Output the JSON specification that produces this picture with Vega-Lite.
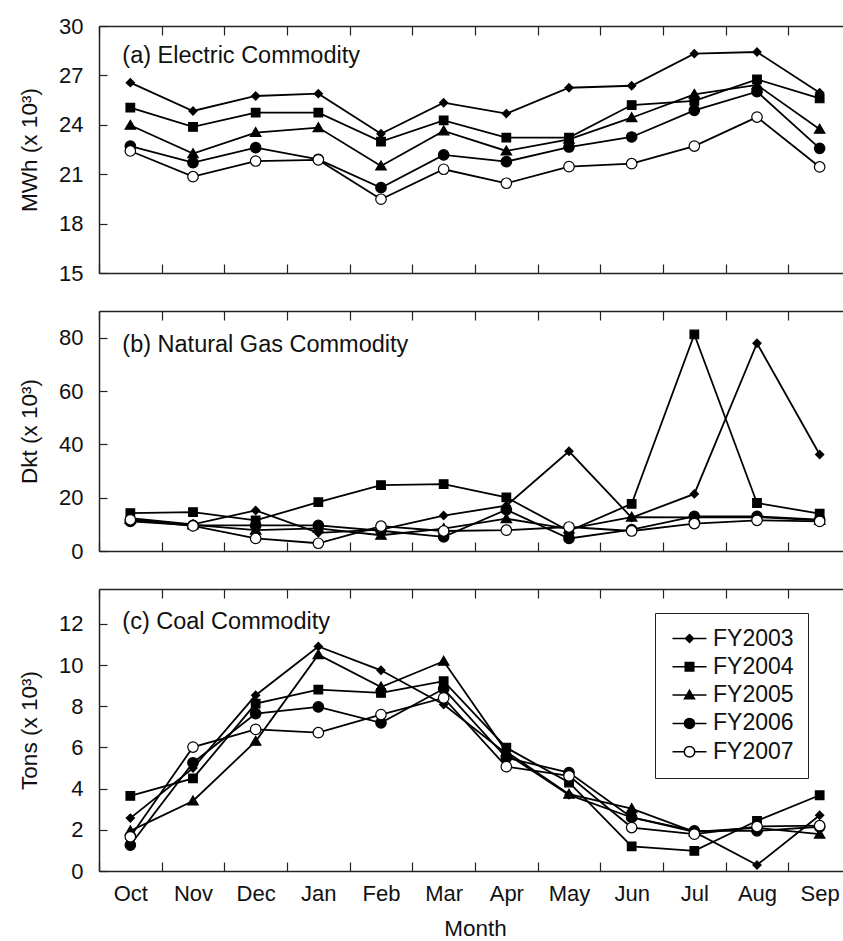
{
  "$schema": "https://vega.github.io/schema/vega-lite/v6.json",
  "padding": {"left": 18, "top": 15, "right": 0, "bottom": 0},
  "spacing": 26,
  "config": {
    "font": "Liberation Sans",
    "view": {"stroke": null},
    "axis": {"domainColor": "#222", "domainWidth": 1.5, "tickColor": "#222", "tickWidth": 1.2, "labelFont": "Liberation Sans", "labelFontSize": 22, "labelColor": "#111", "titleFont": "Liberation Sans", "titleFontSize": 22.5, "titleFontWeight": "normal", "titleColor": "#111", "grid": false, "minExtent": 0},
    "axisX": {"tickBand": "extent", "tickSize": -9, "labelAngle": 0},
    "axisY": {"tickSize": -8, "labelPadding": 24, "titlePadding": 17}
  },
  "resolve": {"scale": {"shape": "independent", "fill": "independent", "stroke": "independent"}},
  "datasets": {
    "elec": [
      {"s":"FY2003","m":"Oct","v":26.56},{"s":"FY2003","m":"Nov","v":24.84},{"s":"FY2003","m":"Dec","v":25.75},{"s":"FY2003","m":"Jan","v":25.89},{"s":"FY2003","m":"Feb","v":23.46},{"s":"FY2003","m":"Mar","v":25.34},{"s":"FY2003","m":"Apr","v":24.68},{"s":"FY2003","m":"May","v":26.25},{"s":"FY2003","m":"Jun","v":26.37},{"s":"FY2003","m":"Jul","v":28.32},{"s":"FY2003","m":"Aug","v":28.42},{"s":"FY2003","m":"Sep","v":25.95},
      {"s":"FY2004","m":"Oct","v":25.04},{"s":"FY2004","m":"Nov","v":23.87},{"s":"FY2004","m":"Dec","v":24.74},{"s":"FY2004","m":"Jan","v":24.74},{"s":"FY2004","m":"Feb","v":22.98},{"s":"FY2004","m":"Mar","v":24.27},{"s":"FY2004","m":"Apr","v":23.22},{"s":"FY2004","m":"May","v":23.22},{"s":"FY2004","m":"Jun","v":25.2},{"s":"FY2004","m":"Jul","v":25.45},{"s":"FY2004","m":"Aug","v":26.76},{"s":"FY2004","m":"Sep","v":25.6},
      {"s":"FY2005","m":"Oct","v":23.97},{"s":"FY2005","m":"Nov","v":22.25},{"s":"FY2005","m":"Dec","v":23.53},{"s":"FY2005","m":"Jan","v":23.83},{"s":"FY2005","m":"Feb","v":21.5},{"s":"FY2005","m":"Mar","v":23.63},{"s":"FY2005","m":"Apr","v":22.41},{"s":"FY2005","m":"May","v":23.12},{"s":"FY2005","m":"Jun","v":24.43},{"s":"FY2005","m":"Jul","v":25.85},{"s":"FY2005","m":"Aug","v":26.42},{"s":"FY2005","m":"Sep","v":23.73},
      {"s":"FY2006","m":"Oct","v":22.71},{"s":"FY2006","m":"Nov","v":21.7},{"s":"FY2006","m":"Dec","v":22.61},{"s":"FY2006","m":"Jan","v":21.9},{"s":"FY2006","m":"Feb","v":20.18},{"s":"FY2006","m":"Mar","v":22.17},{"s":"FY2006","m":"Apr","v":21.76},{"s":"FY2006","m":"May","v":22.65},{"s":"FY2006","m":"Jun","v":23.26},{"s":"FY2006","m":"Jul","v":24.88},{"s":"FY2006","m":"Aug","v":26.01},{"s":"FY2006","m":"Sep","v":22.57},
      {"s":"FY2007","m":"Oct","v":22.41},{"s":"FY2007","m":"Nov","v":20.85},{"s":"FY2007","m":"Dec","v":21.8},{"s":"FY2007","m":"Jan","v":21.87},{"s":"FY2007","m":"Feb","v":19.48},{"s":"FY2007","m":"Mar","v":21.3},{"s":"FY2007","m":"Apr","v":20.45},{"s":"FY2007","m":"May","v":21.46},{"s":"FY2007","m":"Jun","v":21.64},{"s":"FY2007","m":"Jul","v":22.71},{"s":"FY2007","m":"Aug","v":24.47},{"s":"FY2007","m":"Sep","v":21.44}
    ],
    "gas": [
      {"s":"FY2003","m":"Oct","v":12.3},{"s":"FY2003","m":"Nov","v":10.0},{"s":"FY2003","m":"Dec","v":15.2},{"s":"FY2003","m":"Jan","v":6.8},{"s":"FY2003","m":"Feb","v":8.0},{"s":"FY2003","m":"Mar","v":13.3},{"s":"FY2003","m":"Apr","v":17.0},{"s":"FY2003","m":"May","v":37.4},{"s":"FY2003","m":"Jun","v":12.5},{"s":"FY2003","m":"Jul","v":21.4},{"s":"FY2003","m":"Aug","v":77.9},{"s":"FY2003","m":"Sep","v":36.2},
      {"s":"FY2004","m":"Oct","v":14.2},{"s":"FY2004","m":"Nov","v":14.6},{"s":"FY2004","m":"Dec","v":11.5},{"s":"FY2004","m":"Jan","v":18.3},{"s":"FY2004","m":"Feb","v":24.7},{"s":"FY2004","m":"Mar","v":25.1},{"s":"FY2004","m":"Apr","v":20.1},{"s":"FY2004","m":"May","v":7.5},{"s":"FY2004","m":"Jun","v":17.7},{"s":"FY2004","m":"Jul","v":81.2},{"s":"FY2004","m":"Aug","v":18.0},{"s":"FY2004","m":"Sep","v":14.0},
      {"s":"FY2005","m":"Oct","v":11.8},{"s":"FY2005","m":"Nov","v":9.8},{"s":"FY2005","m":"Dec","v":7.8},{"s":"FY2005","m":"Jan","v":8.5},{"s":"FY2005","m":"Feb","v":5.9},{"s":"FY2005","m":"Mar","v":8.4},{"s":"FY2005","m":"Apr","v":12.1},{"s":"FY2005","m":"May","v":8.3},{"s":"FY2005","m":"Jun","v":12.7},{"s":"FY2005","m":"Jul","v":12.6},{"s":"FY2005","m":"Aug","v":12.7},{"s":"FY2005","m":"Sep","v":11.5},
      {"s":"FY2006","m":"Oct","v":11.1},{"s":"FY2006","m":"Nov","v":9.6},{"s":"FY2006","m":"Dec","v":9.6},{"s":"FY2006","m":"Jan","v":9.6},{"s":"FY2006","m":"Feb","v":7.6},{"s":"FY2006","m":"Mar","v":5.3},{"s":"FY2006","m":"Apr","v":15.5},{"s":"FY2006","m":"May","v":4.7},{"s":"FY2006","m":"Jun","v":8.0},{"s":"FY2006","m":"Jul","v":13.0},{"s":"FY2006","m":"Aug","v":13.0},{"s":"FY2006","m":"Sep","v":11.8},
      {"s":"FY2007","m":"Oct","v":11.7},{"s":"FY2007","m":"Nov","v":9.4},{"s":"FY2007","m":"Dec","v":4.7},{"s":"FY2007","m":"Jan","v":2.9},{"s":"FY2007","m":"Feb","v":9.3},{"s":"FY2007","m":"Mar","v":7.5},{"s":"FY2007","m":"Apr","v":7.8},{"s":"FY2007","m":"May","v":9.0},{"s":"FY2007","m":"Jun","v":7.5},{"s":"FY2007","m":"Jul","v":10.3},{"s":"FY2007","m":"Aug","v":11.5},{"s":"FY2007","m":"Sep","v":11.1}
    ],
    "coal": [
      {"s":"FY2003","m":"Oct","v":2.57},{"s":"FY2003","m":"Nov","v":5.0},{"s":"FY2003","m":"Dec","v":8.54},{"s":"FY2003","m":"Jan","v":10.91},{"s":"FY2003","m":"Feb","v":9.75},{"s":"FY2003","m":"Mar","v":8.09},{"s":"FY2003","m":"Apr","v":5.7},{"s":"FY2003","m":"May","v":3.7},{"s":"FY2003","m":"Jun","v":2.6},{"s":"FY2003","m":"Jul","v":1.9},{"s":"FY2003","m":"Aug","v":0.29},{"s":"FY2003","m":"Sep","v":2.71},
      {"s":"FY2004","m":"Oct","v":3.65},{"s":"FY2004","m":"Nov","v":4.5},{"s":"FY2004","m":"Dec","v":8.13},{"s":"FY2004","m":"Jan","v":8.81},{"s":"FY2004","m":"Feb","v":8.65},{"s":"FY2004","m":"Mar","v":9.22},{"s":"FY2004","m":"Apr","v":5.99},{"s":"FY2004","m":"May","v":4.3},{"s":"FY2004","m":"Jun","v":1.2},{"s":"FY2004","m":"Jul","v":0.98},{"s":"FY2004","m":"Aug","v":2.44},{"s":"FY2004","m":"Sep","v":3.68},
      {"s":"FY2005","m":"Oct","v":1.95},{"s":"FY2005","m":"Nov","v":3.4},{"s":"FY2005","m":"Dec","v":6.3},{"s":"FY2005","m":"Jan","v":10.51},{"s":"FY2005","m":"Feb","v":8.94},{"s":"FY2005","m":"Mar","v":10.19},{"s":"FY2005","m":"Apr","v":5.8},{"s":"FY2005","m":"May","v":3.73},{"s":"FY2005","m":"Jun","v":3.03},{"s":"FY2005","m":"Jul","v":1.9},{"s":"FY2005","m":"Aug","v":2.1},{"s":"FY2005","m":"Sep","v":1.79},
      {"s":"FY2006","m":"Oct","v":1.26},{"s":"FY2006","m":"Nov","v":5.26},{"s":"FY2006","m":"Dec","v":7.65},{"s":"FY2006","m":"Jan","v":7.97},{"s":"FY2006","m":"Feb","v":7.2},{"s":"FY2006","m":"Mar","v":8.85},{"s":"FY2006","m":"Apr","v":5.5},{"s":"FY2006","m":"May","v":4.78},{"s":"FY2006","m":"Jun","v":2.6},{"s":"FY2006","m":"Jul","v":1.95},{"s":"FY2006","m":"Aug","v":1.95},{"s":"FY2006","m":"Sep","v":2.15},
      {"s":"FY2007","m":"Oct","v":1.66},{"s":"FY2007","m":"Nov","v":6.02},{"s":"FY2007","m":"Dec","v":6.88},{"s":"FY2007","m":"Jan","v":6.72},{"s":"FY2007","m":"Feb","v":7.6},{"s":"FY2007","m":"Mar","v":8.41},{"s":"FY2007","m":"Apr","v":5.07},{"s":"FY2007","m":"May","v":4.62},{"s":"FY2007","m":"Jun","v":2.11},{"s":"FY2007","m":"Jul","v":1.79},{"s":"FY2007","m":"Aug","v":2.16},{"s":"FY2007","m":"Sep","v":2.2}
    ]
  },
  "vconcat": [
    {
      "width": 752, "height": 247,
      "resolve": {"axis": {"x": "independent"}},
      "layer": [
        {
          "data": {"name": "elec"},
          "mark": {"type": "line", "stroke": "black", "strokeWidth": 1.8},
          "encoding": {
            "x": {"field": "m", "type": "ordinal", "scale": {"type": "band", "domain": ["Oct","Nov","Dec","Jan","Feb","Mar","Apr","May","Jun","Jul","Aug","Sep"], "paddingInner": 0, "paddingOuter": 0}, "axis": {"labels": false, "title": null}},
            "y": {"field": "v", "type": "quantitative", "scale": {"domain": [15, 30], "nice": false, "zero": false}, "axis": {"title": "MWh (x 10³)", "values": [15,16.5,18,19.5,21,22.5,24,25.5,27,28.5,30], "labelExpr": "datum.value % 3 === 0 ? datum.label : ''"}},
            "detail": {"field": "s"}
          }
        },
        {
          "data": {"name": "elec"},
          "mark": {"type": "point", "filled": true, "stroke": "black", "strokeWidth": 1.2, "opacity": 1, "size": 110},
          "encoding": {
            "x": {"field": "m", "type": "ordinal", "axis": {"orient": "top", "labels": false, "title": null}},
            "y": {"field": "v", "type": "quantitative"},
            "shape": {"field": "s", "type": "nominal", "legend": null, "scale": {"domain": ["FY2003","FY2004","FY2005","FY2006","FY2007"], "range": ["M0,-0.78L0.78,0L0,0.78L-0.78,0Z", "M-0.82,-0.82L0.82,-0.82L0.82,0.82L-0.82,0.82Z", "M0,-0.95L1,0.75L-1,0.75Z", "circle", "circle"]}},
            "fill": {"field": "s", "type": "nominal", "legend": null, "scale": {"domain": ["FY2003","FY2004","FY2005","FY2006","FY2007"], "range": ["black","black","black","black","white"]}}
          }
        },
        {
          "data": {"values": [{}]},
          "mark": {"type": "text", "text": "(a) Electric Commodity", "align": "left", "baseline": "alphabetic", "fontSize": 23.5, "dx": -8, "color": "#111"},
          "encoding": {
            "x": {"datum": "Oct", "type": "ordinal", "axis": null},
            "y": {"datum": 27.75, "type": "quantitative"}
          }
        }
      ]
    },
    {
      "width": 752, "height": 240,
      "resolve": {"axis": {"x": "independent"}},
      "layer": [
        {
          "data": {"name": "gas"},
          "mark": {"type": "line", "stroke": "black", "strokeWidth": 1.8},
          "encoding": {
            "x": {"field": "m", "type": "ordinal", "scale": {"type": "band", "domain": ["Oct","Nov","Dec","Jan","Feb","Mar","Apr","May","Jun","Jul","Aug","Sep"], "paddingInner": 0, "paddingOuter": 0}, "axis": {"labels": false, "title": null}},
            "y": {"field": "v", "type": "quantitative", "scale": {"domain": [0, 90], "nice": false, "zero": false}, "axis": {"title": "Dkt (x 10³)", "values": [0,10,20,30,40,50,60,70,80,90], "labelExpr": "datum.value % 20 === 0 ? datum.label : ''"}},
            "detail": {"field": "s"}
          }
        },
        {
          "data": {"name": "gas"},
          "mark": {"type": "point", "filled": true, "stroke": "black", "strokeWidth": 1.2, "opacity": 1, "size": 110},
          "encoding": {
            "x": {"field": "m", "type": "ordinal", "axis": {"orient": "top", "labels": false, "title": null}},
            "y": {"field": "v", "type": "quantitative"},
            "shape": {"field": "s", "type": "nominal", "legend": null, "scale": {"domain": ["FY2003","FY2004","FY2005","FY2006","FY2007"], "range": ["M0,-0.78L0.78,0L0,0.78L-0.78,0Z", "M-0.82,-0.82L0.82,-0.82L0.82,0.82L-0.82,0.82Z", "M0,-0.95L1,0.75L-1,0.75Z", "circle", "circle"]}},
            "fill": {"field": "s", "type": "nominal", "legend": null, "scale": {"domain": ["FY2003","FY2004","FY2005","FY2006","FY2007"], "range": ["black","black","black","black","white"]}}
          }
        },
        {
          "data": {"values": [{}]},
          "mark": {"type": "text", "text": "(b) Natural Gas Commodity", "align": "left", "baseline": "alphabetic", "fontSize": 23.5, "dx": -8, "color": "#111"},
          "encoding": {
            "x": {"datum": "Oct", "type": "ordinal", "axis": null},
            "y": {"datum": 74.7, "type": "quantitative"}
          }
        }
      ]
    },
    {
      "width": 752, "height": 282,
      "resolve": {"axis": {"x": "independent"}, "scale": {"shape": "independent", "fill": "independent", "stroke": "independent"}},
      "layer": [
        {
          "data": {"name": "coal"},
          "mark": {"type": "line", "stroke": "black", "strokeWidth": 1.8},
          "encoding": {
            "x": {"field": "m", "type": "ordinal", "scale": {"type": "band", "domain": ["Oct","Nov","Dec","Jan","Feb","Mar","Apr","May","Jun","Jul","Aug","Sep"], "paddingInner": 0, "paddingOuter": 0}, "axis": {"title": "Month", "labelPadding": 21, "titlePadding": 13}},
            "y": {"field": "v", "type": "quantitative", "scale": {"domain": [0, 13.7], "nice": false, "zero": false}, "axis": {"title": "Tons (x 10³)", "values": [0,2,4,6,8,10,12]}},
            "detail": {"field": "s"}
          }
        },
        {
          "data": {"name": "coal"},
          "mark": {"type": "point", "filled": true, "stroke": "black", "strokeWidth": 1.2, "opacity": 1, "size": 110},
          "encoding": {
            "x": {"field": "m", "type": "ordinal", "axis": {"orient": "top", "labels": false, "title": null}},
            "y": {"field": "v", "type": "quantitative"},
            "shape": {"field": "s", "type": "nominal", "legend": null, "scale": {"domain": ["FY2003","FY2004","FY2005","FY2006","FY2007"], "range": ["M0,-0.78L0.78,0L0,0.78L-0.78,0Z", "M-0.82,-0.82L0.82,-0.82L0.82,0.82L-0.82,0.82Z", "M0,-0.95L1,0.75L-1,0.75Z", "circle", "circle"]}},
            "fill": {"field": "s", "type": "nominal", "legend": null, "scale": {"domain": ["FY2003","FY2004","FY2005","FY2006","FY2007"], "range": ["black","black","black","black","white"]}}
          }
        },
        {
          "data": {"name": "coal"},
          "transform": [{"filter": "false"}],
          "mark": {"type": "point", "filled": true, "opacity": 1, "size": 100},
          "encoding": {
            "x": {"field": "m", "type": "ordinal", "axis": null},
            "y": {"field": "v", "type": "quantitative"},
            "shape": {"field": "s", "type": "nominal", "scale": {"domain": ["FY2003","FY2004","FY2005","FY2006","FY2007"], "range": ["M-3.4,0L3.4,0M0,-0.8L0.8,0L0,0.8L-0.8,0Z", "M-3.4,0L3.4,0M-0.85,-0.85L0.85,-0.85L0.85,0.85L-0.85,0.85Z", "M-3.4,0L3.4,0M0,-0.95L1,0.75L-1,0.75Z", "M-3.4,0L3.4,0M-1,0A1,1,0,1,0,1,0A1,1,0,1,0,-1,0Z", "M-3.4,0L-1.05,0M1.05,0L3.4,0M-1.05,0A1.05,1.05,0,1,0,1.05,0A1.05,1.05,0,1,0,-1.05,0Z"]},
              "legend": {
                "orient": "none", "legendX": 556, "legendY": 24, "title": null,
                "strokeColor": "#222", "fillColor": "white", "padding": 14, "rowPadding": 4.3,
                "labelFont": "Liberation Sans", "labelFontSize": 23, "labelColor": "#111",
                "symbolSize": 100, "symbolStrokeWidth": 1.5, "symbolOffset": 9, "labelOffset": 12
              }
            },
            "fill": {"field": "s", "type": "nominal", "scale": {"domain": ["FY2003","FY2004","FY2005","FY2006","FY2007"], "range": ["black","black","black","black","white"]},
              "legend": {
                "orient": "none", "legendX": 556, "legendY": 24, "title": null,
                "strokeColor": "#222", "fillColor": "white", "padding": 14, "rowPadding": 4.3,
                "labelFont": "Liberation Sans", "labelFontSize": 23, "labelColor": "#111",
                "symbolSize": 100, "symbolStrokeWidth": 1.5, "symbolOffset": 9, "labelOffset": 12
              }
            },
            "stroke": {"field": "s", "type": "nominal", "scale": {"domain": ["FY2003","FY2004","FY2005","FY2006","FY2007"], "range": ["black","black","black","black","black"]},
              "legend": {
                "orient": "none", "legendX": 556, "legendY": 24, "title": null,
                "strokeColor": "#222", "fillColor": "white", "padding": 14, "rowPadding": 4.3,
                "labelFont": "Liberation Sans", "labelFontSize": 23, "labelColor": "#111",
                "symbolSize": 100, "symbolStrokeWidth": 1.5, "symbolOffset": 9, "labelOffset": 12
              }
            }
          }
        },
        {
          "data": {"values": [{}]},
          "mark": {"type": "text", "text": "(c) Coal Commodity", "align": "left", "baseline": "alphabetic", "fontSize": 23.5, "dx": -8, "color": "#111"},
          "encoding": {
            "x": {"datum": "Oct", "type": "ordinal", "axis": null},
            "y": {"datum": 11.76, "type": "quantitative"}
          }
        }
      ]
    }
  ]
}
